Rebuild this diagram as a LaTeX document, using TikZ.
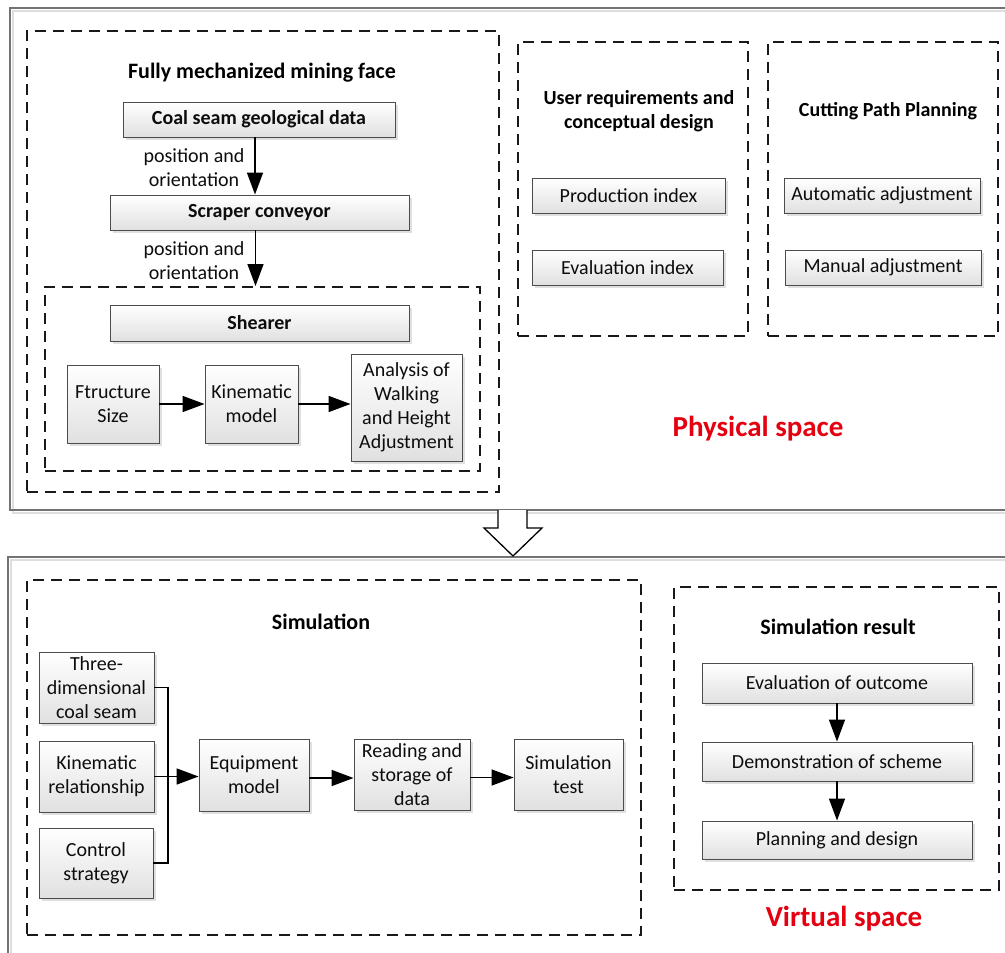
\documentclass[tikz,border=0pt]{standalone}
\usepackage{fontspec}
\setmainfont{Carlito}
\usetikzlibrary{arrows.meta,shadows}
\definecolor{redtxt}{RGB}{228,0,16}
\begin{document}
\begin{tikzpicture}[x=1pt,y=-1pt,
  box/.style={draw=black!70, line width=0.9pt, top color=white, bottom color=black!12,
    text=black!95, align=center, inner sep=0pt, font=\fontsize{20}{24}\selectfont,
    drop shadow={shadow xshift=3pt, shadow yshift=-3pt, fill=black!12, opacity=1}},
  boldbox/.style={box, font=\fontsize{20}{24}\selectfont\bfseries},
  dbox/.style={draw=black!90, line width=2pt, dash pattern=on 11pt off 7pt, inner sep=0pt},
  arr/.style={line width=1.5pt, -{Triangle[length=22pt,width=16pt]}},
  bus/.style={line width=1.5pt},
  ttl/.style={font=\fontsize{22}{26}\selectfont\bfseries, text=black, inner sep=0pt},
  sttl/.style={font=\fontsize{20}{24}\selectfont\bfseries, text=black, align=center, inner sep=0pt},
  lbl/.style={font=\fontsize{20}{24}\selectfont, align=center, inner sep=0pt, text=black!95},
  space/.style={font=\fontsize{29}{34}\selectfont\bfseries, text=redtxt, inner sep=0pt},
  panelline/.style={draw=black!55, line width=1.3pt},
  panelshadow/.style={draw=black!13, line width=1.5pt}
]
\clip (0,0) rectangle (1005,953);
\fill[white] (0,0) rectangle (1005,953);

% outer panels
\draw[panelshadow] (13,11) rectangle (1030,513);
\draw[panelline] (10,8) rectangle (1027,510);
\draw[panelshadow] (11,560) rectangle (1030,990);
\draw[panelline] (8,557) rectangle (1027,987);

% hollow arrow between panels
\draw[line width=1.3pt, fill=white, line join=miter]
  (498,510) -- (498,528) -- (484,528) -- (513,556) -- (542,528) -- (527,528) -- (527,510);

% ---------- Physical space ----------
\node[dbox, minimum width=472pt, minimum height=461pt] (fm) at (263,261.5) {};
\node[ttl] (fmt) at (262,73) {Fully mechanized mining face};
\node[boldbox, minimum width=272pt, minimum height=35pt] (coal) at (259,119.5) {Coal seam geological data};
\node[boldbox, minimum width=299pt, minimum height=35pt] (scr) at (259.5,212.5) {Scraper conveyor};
\node[dbox, minimum width=435pt, minimum height=184pt] (shb) at (262.5,379) {};
\node[boldbox, minimum width=299pt, minimum height=36pt] (shr) at (259.5,323) {Shearer};
\node[box, minimum width=92pt, minimum height=78pt] (ftr) at (113,404) {Ftructure\\Size};
\node[box, minimum width=93pt, minimum height=78pt] (kin) at (251.5,404) {Kinematic\\model};
\node[box, minimum width=111pt, minimum height=107pt] (ana) at (406.5,407.5) {Analysis of\\Walking\\and Height\\Adjustment};
\node[lbl] (l1) at (194,168) {position and\\orientation};
\node[lbl] (l2) at (194,261) {position and\\orientation};

\draw[arr] (coal.south) ++(-4,0) coordinate (a1) -- (a1 |- scr.north);
\draw[arr] (scr.south) ++(-4,0) coordinate (a2) -- (a2 |- shb.north);
\draw[arr] (ftr.east) -- (kin.west);
\draw[arr] (kin.east) -- (kin.east -| ana.west);

\node[dbox, minimum width=230pt, minimum height=294pt] (ur) at (633,189) {};
\node[sttl] (urt) at (639,111) {User requirements and\\conceptual design};
\node[box, minimum width=193pt, minimum height=35pt] (prod) at (628.5,195.5) {Production index};
\node[box, minimum width=191pt, minimum height=35pt] (evi) at (627.5,267.5) {Evaluation index};

\node[dbox, minimum width=230pt, minimum height=294pt] (cp) at (883,189) {};
\node[sttl] (cpt) at (888,111) {Cutting Path Planning};
\node[box, minimum width=196pt, minimum height=35pt] (auto) at (882,195.5) {Automatic adjustment};
\node[box, minimum width=196pt, minimum height=35pt] (man) at (883,267.5) {Manual adjustment};

\node[space] (phys) at (758,429) {Physical space};

% ---------- Virtual space ----------
\node[dbox, minimum width=614pt, minimum height=355pt] (sim) at (334,757.5) {};
\node[ttl] (simt) at (321,622) {Simulation};
\node[box, minimum width=115pt, minimum height=71pt] (tdc) at (96.5,687.5) {Three-\\dimensional\\coal seam};
\node[box, minimum width=115pt, minimum height=71pt] (krel) at (96.5,776.5) {Kinematic\\relationship};
\node[box, minimum width=114pt, minimum height=70pt] (ctl) at (96,863) {Control\\strategy};
\node[box, minimum width=110pt, minimum height=72pt] (eqm) at (254,775) {Equipment\\model};
\node[box, minimum width=116pt, minimum height=71pt] (rsd) at (412,774.5) {Reading and\\storage of\\data};
\node[box, minimum width=109pt, minimum height=71pt] (st) at (568.5,774.5) {Simulation\\test};
\coordinate (busc) at (168,776);
\draw[bus] (tdc.east) -| (busc) |- (ctl.east);
\draw[arr] (krel.east) -- (krel.east -| eqm.west);
\draw[arr] (eqm.east) ++(0,3) coordinate (a3) -- (a3 -| rsd.west);
\draw[arr] (rsd.east) ++(0,3) coordinate (a4) -- (a4 -| st.west);

\node[dbox, minimum width=325pt, minimum height=303pt] (res) at (836.5,738.5) {};
\node[ttl] (rest) at (838,627) {Simulation result};
\node[box, minimum width=270pt, minimum height=40pt] (eo) at (837,683) {Evaluation of outcome};
\node[box, minimum width=270pt, minimum height=39pt] (ds) at (837,761.5) {Demonstration of scheme};
\node[box, minimum width=270pt, minimum height=38pt] (pd) at (837,840) {Planning and design};
\draw[arr] (eo.south) -- (ds.north);
\draw[arr] (ds.south) -- (pd.north);

\node[space] (virt) at (844,919) {Virtual space};
\end{tikzpicture}
\end{document}
